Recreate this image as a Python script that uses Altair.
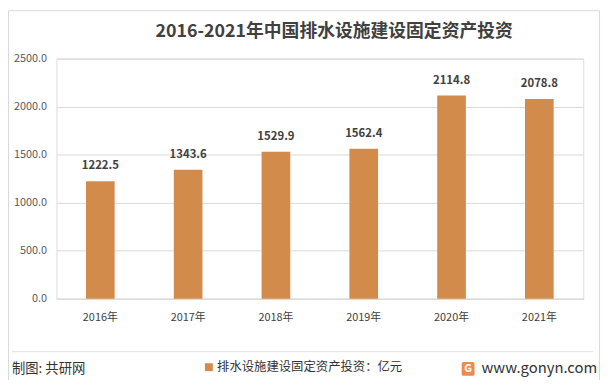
import altair as alt
import pandas as pd

years = ["2016年", "2017年", "2018年", "2019年", "2020年", "2021年"]
values = [1222.5, 1343.6, 1529.9, 1562.4, 2114.8, 2078.8]
series_name = "排水设施建设固定资产投资：亿元"
y_ticks = [0, 500, 1000, 1500, 2000, 2500]

df = pd.DataFrame({"year": years, "value": values, "series": [series_name] * len(years)})

FONT = "Noto Sans CJK SC"
BAR = "#D38B4C"

base = alt.Chart(df)

bars = base.mark_bar(size=29, color=BAR).encode(
    x=alt.X("year:N", sort=years, title=None,
            axis=alt.Axis(labelAngle=0, ticks=False, labelPadding=13, labelFontSize=11,
                          labelColor="#404040", labelFont=FONT, domainColor="#d9d9d9")),
    y=alt.Y("value:Q", title=None, scale=alt.Scale(domain=[0, 2500], nice=False),
            axis=alt.Axis(values=y_ticks, format=".1f", ticks=False, domain=False,
                          labelPadding=10, labelFontSize=11, labelColor="#595959",
                          labelFont=FONT, gridColor="#d9d9d9")),
    color=alt.Color("series:N", scale=alt.Scale(range=[BAR]), title=None,
                    legend=alt.Legend(orient="none", legendX=148, legendY=306,
                                      symbolType="square", symbolSize=64,
                                      symbolStrokeWidth=0, labelFontSize=12.5,
                                      labelFont=FONT, labelColor="#333333",
                                      labelOffset=2, labelLimit=400)),
)

labels = base.mark_text(dy=-10, fontSize=11.5, fontWeight="bold", color="#404040",
                        font=FONT, baseline="bottom").encode(
    x=alt.X("year:N", sort=years),
    y="value:Q",
    text=alt.Text("value:Q", format=".1f"),
)

title = alt.Chart(pd.DataFrame({"t": ["2016-2021年中国排水设施建设固定资产投资"]})).mark_text(
    fontSize=18, fontWeight="bold", color="#404040", font=FONT, align="center", baseline="middle"
).encode(x=alt.value(281), y=alt.value(-27), text="t:N")

border = alt.Chart(pd.DataFrame({"a": [0]})).mark_rect(
    fill=None, stroke="#d9d9d9", strokeWidth=1
).encode(x=alt.value(-48.5), x2=alt.value(549.5), y=alt.value(-48.5), y2=alt.value(330.5))

divider = alt.Chart(pd.DataFrame({"a": [0]})).mark_rule(color="#e3e3e3", strokeWidth=1).encode(
    x=alt.value(-45), x2=alt.value(543), y=alt.value(296.5))

source = alt.Chart(pd.DataFrame({"t": ["制图: 共研网"]})).mark_text(
    fontSize=13.5, color="#333333", font=FONT, align="left", baseline="middle"
).encode(x=alt.value(-45), y=alt.value(314), text="t:N")

logo = alt.Chart(pd.DataFrame({"a": [0]})).mark_rect(color="#F08A4B", cornerRadius=2).encode(
    x=alt.value(410), x2=alt.value(423), y=alt.value(307), y2=alt.value(321))

logo_g = alt.Chart(pd.DataFrame({"t": ["G"]})).mark_text(
    fontSize=11, fontWeight="bold", color="white", font=FONT, align="center", baseline="middle"
).encode(x=alt.value(416.5), y=alt.value(314), text="t:N")

site = alt.Chart(pd.DataFrame({"t": ["www.gonyn.com"]})).mark_text(
    fontSize=15, color="#333333", font=FONT, align="left", baseline="middle"
).encode(x=alt.value(430), y=alt.value(313), text="t:N")

chart = alt.layer(bars, labels, title, border, divider, source, logo, logo_g, site).properties(
    width=533, height=243,
    autosize=alt.AutoSizeParams(type="none"),
    padding={"left": 49, "top": 49, "right": 20, "bottom": 80},
).configure_view(stroke=None).configure(background="white")

chart.save("out.html", embed_options={"renderer": "svg", "actions": False})
